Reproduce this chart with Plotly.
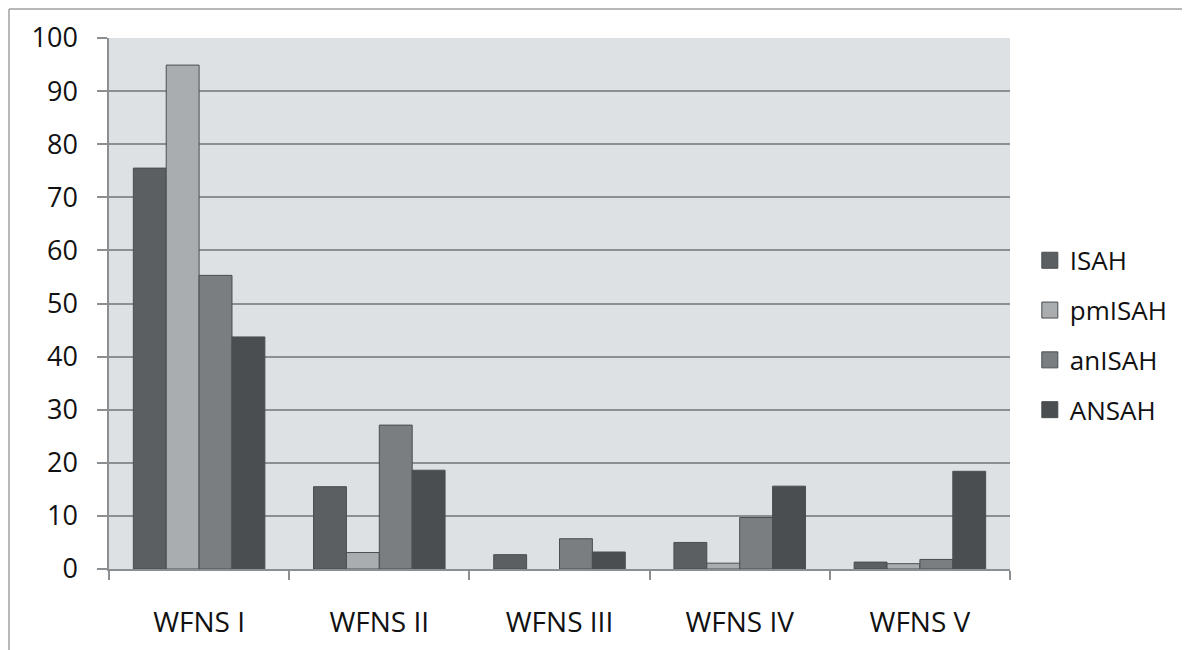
import plotly.graph_objects as go

categories = ["WFNS I", "WFNS II", "WFNS III", "WFNS IV", "WFNS V"]
series_names = ["ISAH", "pmISAH", "anISAH", "ANSAH"]
isah = [75.5, 15.5, 2.7, 5.0, 1.3]
pmisah = [94.9, 3.1, 0.0, 1.1, 1.0]
anisah = [55.3, 27.1, 5.7, 9.7, 1.8]
ansah = [43.7, 18.6, 3.2, 15.6, 18.4]
y_ticks = [0, 10, 20, 30, 40, 50, 60, 70, 80, 90, 100]

values = [isah, pmisah, anisah, ansah]
colors = ["#5b5f62", "#a9adb0", "#7a7e81", "#4a4e51"]
OUTLINE = "#4a4e50"

fig = go.Figure()
for name, vals, col in zip(series_names, values, colors):
    fig.add_trace(go.Bar(
        x=categories, y=vals, name=name,
        marker=dict(color=col,
                    line=dict(color=OUTLINE, width=[1 if v > 0 else 0 for v in vals])),
        showlegend=False,
    ))
# legend entries with larger square swatches
for name, col in zip(series_names, colors):
    fig.add_trace(go.Scatter(
        x=[None], y=[None], mode="markers", name=name,
        marker=dict(symbol="square", size=16, color=col, line=dict(color=OUTLINE, width=1)),
        legendgroup=name, showlegend=True,
    ))

FONT = "Open Sans"
fig.update_layout(
    width=1182, height=642,
    margin=dict(l=101, r=180, t=30, b=81, autoexpand=False),
    paper_bgcolor="white",
    plot_bgcolor="#dee1e4",
    barmode="group",
    bargap=0.27,
    bargroupgap=0,
    font=dict(family=FONT, color="#111111"),
    showlegend=True,
    legend=dict(
        x=1.022, xanchor="left", y=0.44, yanchor="middle",
        font=dict(size=26, family=FONT, color="#111111"),
        tracegroupgap=13,
        bgcolor="rgba(0,0,0,0)",
    ),
    xaxis=dict(
        tickfont=dict(size=28, family=FONT, color="#111111"),
        showline=True, linecolor="#8c8f92", linewidth=1.5,
        ticks="outside", tickson="boundaries", ticklen=9, tickcolor="#8c8f92", tickwidth=1.5,
        showgrid=False, automargin=False,
        ticklabelstandoff=28,
    ),
    yaxis=dict(
        range=[0, 100],
        tickvals=y_ticks,
        tickfont=dict(size=27, family=FONT, color="#111111"),
        showline=True, linecolor="#8c8f92", linewidth=1.5,
        ticks="outside", ticklen=10, tickcolor="#8c8f92", tickwidth=1.5,
        showgrid=True, gridcolor="#8c8f92", gridwidth=1.5,
        zeroline=False, automargin=False,
        ticklabelstandoff=14,
    ),
    shapes=[
        dict(type="line", xref="paper", yref="paper",
             x0=(9 - 109) / 901, x1=(1200 - 109) / 901,
             y0=(569 - 9) / 531, y1=(569 - 9) / 531,
             line=dict(color="#a0a0a0", width=1.5)),
        dict(type="line", xref="paper", yref="paper",
             x0=(9 - 109) / 901, x1=(9 - 109) / 901,
             y0=(569 - 9) / 531, y1=(569 - 660) / 531,
             line=dict(color="#a0a0a0", width=1.5)),
    ],
)

fig.write_html("out.html")
